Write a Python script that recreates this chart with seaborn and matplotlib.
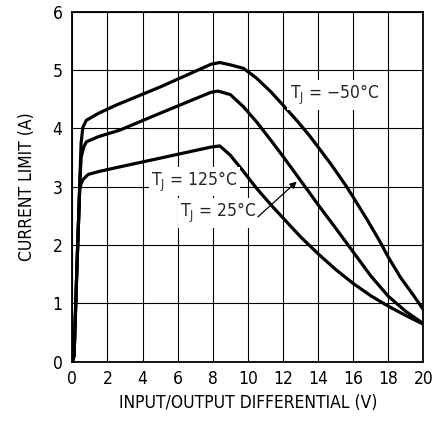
import pandas as pd
import matplotlib.pyplot as plt
import seaborn as sns
from matplotlib import font_manager

# current limit vs input/output differential
X_M50 = [0, 0.1, 0.25, 0.42, 0.5, 0.6, 0.8, 1.5, 2.5, 5, 7.9, 8.4, 9.0, 9.75, 10.5, 11.3, 12.0, 12.8, 13.55,
         14.1, 14.7, 15.6, 16.0, 16.8, 17.5, 18.0, 18.7, 19.4, 20]
Y_M50 = [0, 0.1, 1.5, 3.0, 3.75, 4.02, 4.14, 4.26, 4.40, 4.71, 5.1, 5.13, 5.09, 5.03, 4.86, 4.63, 4.40, 4.13, 3.86,
         3.64, 3.40, 3.01, 2.82, 2.43, 2.07, 1.79, 1.44, 1.15, 0.89]

X_25 = [0, 0.1, 0.25, 0.42, 0.5, 0.65, 0.8, 1.5, 2.7, 5, 7.9, 8.3, 9.0, 9.75, 10.5, 11.3, 12.0, 12.8, 13.5,
        14.0, 14.9, 16.0, 17.0, 18.0, 19.0, 20]
Y_25 = [0, 0.1, 1.5, 3.0, 3.5, 3.68, 3.77, 3.86, 3.97, 4.26, 4.62, 4.64, 4.58, 4.37, 4.11, 3.80, 3.52, 3.19, 2.90,
        2.69, 2.33, 1.88, 1.47, 1.12, 0.86, 0.65]

X_125 = [0, 0.1, 0.25, 0.42, 0.5, 0.6, 0.9, 1.5, 2.7, 5, 7.9, 8.4, 9.0, 9.75, 10.5, 11.4, 12.2, 13.0, 14.0,
         15.0, 16.0, 17.0, 18.0, 19.0, 20]
Y_125 = [0, 0.1, 1.5, 2.95, 3.05, 3.12, 3.21, 3.26, 3.34, 3.49, 3.68, 3.70, 3.54, 3.26, 2.97, 2.66, 2.40, 2.14, 1.85,
         1.58, 1.34, 1.13, 0.95, 0.79, 0.64]

X_TICKS = list(range(0, 21, 2))
Y_TICKS = list(range(0, 7))


def pick_font():
    fonts = font_manager.fontManager.ttflist
    names = {f.name for f in fonts}
    if "Liberation Sans Narrow" in names:
        return ["Liberation Sans Narrow", "DejaVu Sans"], "normal"
    if any(f.name == "DejaVu Sans" and f.stretch == "condensed" for f in fonts):
        return ["DejaVu Sans"], "condensed"
    return ["Liberation Sans", "DejaVu Sans"], "normal"


def run():
    sns.set_style("white")
    family, stretch = pick_font()
    plt.rcParams["font.family"] = family
    plt.rcParams["font.stretch"] = stretch

    frames = []
    for name, xs, ys in [("-50", X_M50, Y_M50), ("25", X_25, Y_25), ("125", X_125, Y_125)]:
        frames.append(pd.DataFrame({"V": xs, "I": ys, "TJ": name}))
    df = pd.concat(frames, ignore_index=True)

    fig = plt.figure(figsize=(4.33, 4.21), dpi=100)
    ax = fig.add_axes([0.167, 0.141, 0.811, 0.831])

    sns.lineplot(
        data=df, x="V", y="I", hue="TJ", units="TJ", estimator=None,
        sort=False, palette=["black"] * 3, linewidth=2.3, legend=False, ax=ax,
    )

    ax.set_xlim(0, 20)
    ax.set_ylim(0, 6)
    ax.set_xticks(X_TICKS)
    ax.set_yticks(Y_TICKS)
    ax.grid(True, color="black", linewidth=0.8)
    ax.set_axisbelow(True)
    for s in ax.spines.values():
        s.set_color("black")
        s.set_linewidth(1.3)
    ax.tick_params(length=0, labelsize=12.5, colors="black")
    ax.tick_params(axis="x", pad=6)
    ax.tick_params(axis="y", pad=7)
    ax.set_xlabel("INPUT/OUTPUT DIFFERENTIAL (V)", fontsize=12.5, color="black", labelpad=4)
    ax.set_ylabel("CURRENT LIMIT (A)", fontsize=12.5, color="black", labelpad=12)

    box = dict(facecolor="white", edgecolor="none", pad=2)
    ax.text(12.4, 4.57, "T$_\\mathregular{J}$ = \u221250\u00b0C", fontsize=12.5,
            va="center", ha="left", bbox=box, zorder=3)
    ax.text(4.5, 3.09, "T$_\\mathregular{J}$ = 125\u00b0C", fontsize=12.5,
            va="center", ha="left", bbox=box, zorder=3)
    ax.text(6.15, 2.55, "T$_\\mathregular{J}$ = 25\u00b0C", fontsize=12.5,
            va="center", ha="left", bbox=box, zorder=3)
    ax.annotate("", xy=(12.9, 3.12), xytext=(10.45, 2.45),
                arrowprops=dict(arrowstyle="-|>", color="black", lw=0.9,
                                mutation_scale=10), zorder=4)

    fig.savefig("out.png", dpi=100)
    plt.close(fig)


if __name__ == "__main__":
    run()
